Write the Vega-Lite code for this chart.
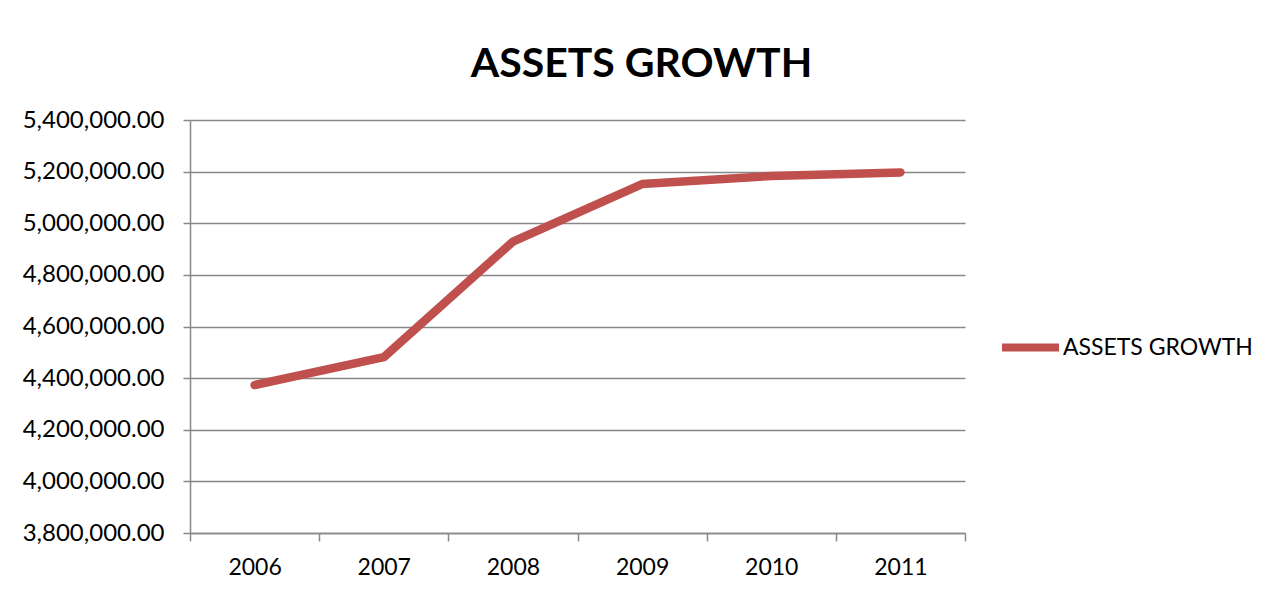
{
  "$schema": "https://vega.github.io/schema/vega-lite/v6.json",
  "width": 775,
  "height": 413,
  "autosize": {"type": "none"},
  "padding": {"left": 190, "top": 120, "right": 309, "bottom": 64},
  "background": "white",
  "title": {
    "text": "ASSETS GROWTH",
    "font": "Lato",
    "fontSize": 41,
    "fontWeight": "bold",
    "color": "#000000",
    "anchor": "middle",
    "baseline": "alphabetic",
    "offset": -10,
    "dx": 64
  },
  "config": {
    "view": {"stroke": null},
    "axis": {
      "labelFont": "Lato",
      "labelFontSize": 24,
      "labelColor": "#000000",
      "domainColor": "#888888",
      "tickColor": "#888888",
      "gridColor": "#888888",
      "domainWidth": 1.5,
      "tickWidth": 1.5,
      "gridWidth": 1.5
    }
  },
  "data": {
    "values": [
      {"year": 2006, "value": 4373000, "series": "ASSETS GROWTH"},
      {"year": 2007, "value": 4481000, "series": "ASSETS GROWTH"},
      {"year": 2008, "value": 4929000, "series": "ASSETS GROWTH"},
      {"year": 2009, "value": 5152000, "series": "ASSETS GROWTH"},
      {"year": 2010, "value": 5183000, "series": "ASSETS GROWTH"},
      {"year": 2011, "value": 5197000, "series": "ASSETS GROWTH"}
    ]
  },
  "mark": {"type": "line", "strokeWidth": 8.5, "strokeCap": "round", "strokeJoin": "round"},
  "encoding": {
    "x": {
      "field": "year",
      "type": "quantitative",
      "scale": {"domain": [2005.5, 2011.5], "nice": false, "zero": false},
      "axis": {
        "title": null,
        "grid": false,
        "values": [2005.5, 2006.5, 2007.5, 2008.5, 2009.5, 2010.5, 2011.5],
        "labelExpr": "datum.value > 2011 ? '' : format(datum.value + 0.5, 'd')",
        "labelOffset": 64.6,
        "labelFontSize": 23,
        "tickSize": 8,
        "labelPadding": 15,
        "labelFlush": false,
        "labelOverlap": false
      }
    },
    "y": {
      "field": "value",
      "type": "quantitative",
      "scale": {"domain": [3800000, 5400000], "nice": false, "zero": false},
      "axis": {
        "title": null,
        "values": [3800000, 4000000, 4200000, 4400000, 4600000, 4800000, 5000000, 5200000, 5400000],
        "format": ",.2f",
        "tickSize": 7,
        "labelPadding": 19
      }
    },
    "color": {
      "field": "series",
      "type": "nominal",
      "scale": {"domain": ["ASSETS GROWTH"], "range": ["#C0504D"]},
      "legend": {
        "title": null,
        "orient": "none",
        "legendX": 808,
        "legendY": 195,
        "symbolType": "stroke",
        "symbolSize": 3249,
        "symbolStrokeWidth": 8,
        "labelFont": "Lato",
        "labelFontSize": 23,
        "labelColor": "#000000",
        "labelOffset": 0,
        "labelLimit": 400
      }
    }
  }
}
